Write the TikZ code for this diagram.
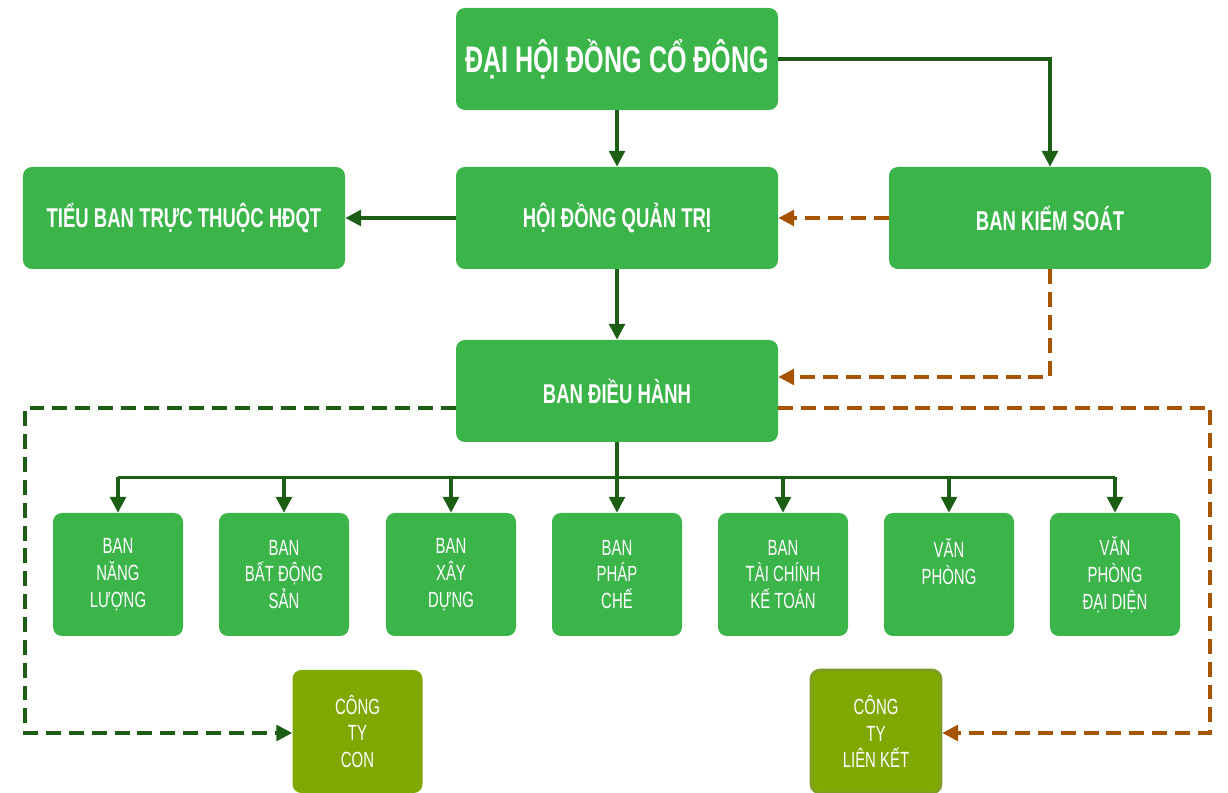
\documentclass[tikz,border=0pt]{standalone}
\usepackage{fontspec}
\setmainfont[FakeStretch=0.68]{Liberation Sans}
\usetikzlibrary{positioning}
\usetikzlibrary{arrows.meta}
\definecolor{boxgreen}{HTML}{3BB54A}
\definecolor{linegreen}{HTML}{1B5E14}
\definecolor{lineorange}{HTML}{A65400}
\definecolor{boxolive}{HTML}{7FA800}

\begin{document}
\begin{tikzpicture}[
        bigbox/.style={draw=none, rectangle, rounded corners=5pt, fill=boxgreen, text=white, minimum width=6.44cm, minimum height=2.04cm, inner sep=0pt, font=\bfseries\fontsize{15.5}{18}\selectfont},
        smallbox/.style={draw=none, rectangle, rounded corners=5pt, fill=boxgreen, text=white, minimum width=2.6cm, minimum height=2.46cm, inner sep=0pt, align=center, font=\fontsize{12.5}{15.3}\selectfont},
        subbox/.style={smallbox, fill=boxolive},
        solidarrow/.style={draw=linegreen, color=linegreen, line width=1.9pt, -{Triangle[length=9pt,width=9pt]}},
        dashgreen/.style={solidarrow, dash pattern=on 8.5pt off 4.5pt},
        dashorange/.style={dashgreen, draw=lineorange, color=lineorange}]
            \useasboundingbox (0,0) rectangle (24.56,-15.86);

            % Top levels
            \node[bigbox, font=\bfseries\fontsize{21}{24}\selectfont] (dhdcd) at (12.34,-1.18) {ĐẠI HỘI ĐỒNG CỔ ĐÔNG};
            \node[bigbox] (hdqt) at (12.34,-4.36) {HỘI ĐỒNG QUẢN TRỊ};
            \node[bigbox] (bks) at (21.0,-4.36) {BAN KIỂM SOÁT};
            \node[bigbox] (tbtt) at (3.68,-4.36) {TIỂU BAN TRỰC THUỘC HĐQT};
            \node[bigbox] (bdh) at (12.34,-7.82) {BAN ĐIỀU HÀNH};

            % Departments
            \node[smallbox] (nangluong) at (2.36,-11.49) {BAN\\NĂNG\\LƯỢNG};
            \node[smallbox] (batdongsan) at (5.68,-11.49) {BAN\\BẤT ĐỘNG\\SẢN};
            \node[smallbox] (xaydung) at (9.02,-11.49) {BAN\\XÂY\\DỰNG};
            \node[smallbox] (phapche) at (12.34,-11.49) {BAN\\PHÁP\\CHẾ};
            \node[smallbox] (taichinh) at (15.66,-11.49) {BAN\\TÀI CHÍNH\\KẾ TOÁN};
            \node[smallbox] (vanphong) at (18.98,-11.49) {VĂN\\PHÒNG\\\mbox{}};
            \node[smallbox] (daidien) at (22.3,-11.49) {VĂN\\PHÒNG\\ĐẠI DIỆN};

            % Companies
            \node[subbox] (congtycon) at (7.15,-14.63) {CÔNG\\TY\\CON};
            \node[subbox, draw=boxolive!70!gray, line width=1.5pt] (lienket) at (17.52,-14.63) {CÔNG\\TY\\LIÊN KẾT};

            \coordinate (bdhin) at ([yshift=0.28cm]bdh.east);
            \coordinate (bdhright) at ([yshift=-0.34cm]bdh.east);
            \coordinate (bdhleft) at ([yshift=-0.34cm]bdh.west);
            \coordinate (rightcorner) at (24.2,-14.66);
            \coordinate (leftcorner) at (0.5,-14.66);

            % Connectors
            \draw[solidarrow] (dhdcd) -- (hdqt);
            \draw[solidarrow] (dhdcd.east) -| (bks.north);
            \draw[solidarrow] (hdqt) -- (tbtt);
            \draw[dashorange] (bks) -- (hdqt);
            \draw[solidarrow] (hdqt) -- (bdh);
            \draw[dashorange] (bks.south) |- (bdhin);
            \draw[dashorange] (bdhright) -| (rightcorner) -- (lienket.east |- rightcorner);
            \draw[dashgreen] (bdhleft) -| (leftcorner) -- (congtycon.west |- leftcorner);

            \draw[draw=linegreen, line width=1.9pt] (bdh.south) -- ++(0,-0.7) coordinate (bus);
            \draw[draw=linegreen, line width=1.9pt] (bus -| nangluong.north) -- (bus -| daidien.north);
            \foreach \dept in {nangluong, batdongsan, xaydung, phapche, taichinh, vanphong, daidien}
                \draw[solidarrow] (bus -| \dept.north) -- (\dept.north);
        \end{tikzpicture}
\end{document}
